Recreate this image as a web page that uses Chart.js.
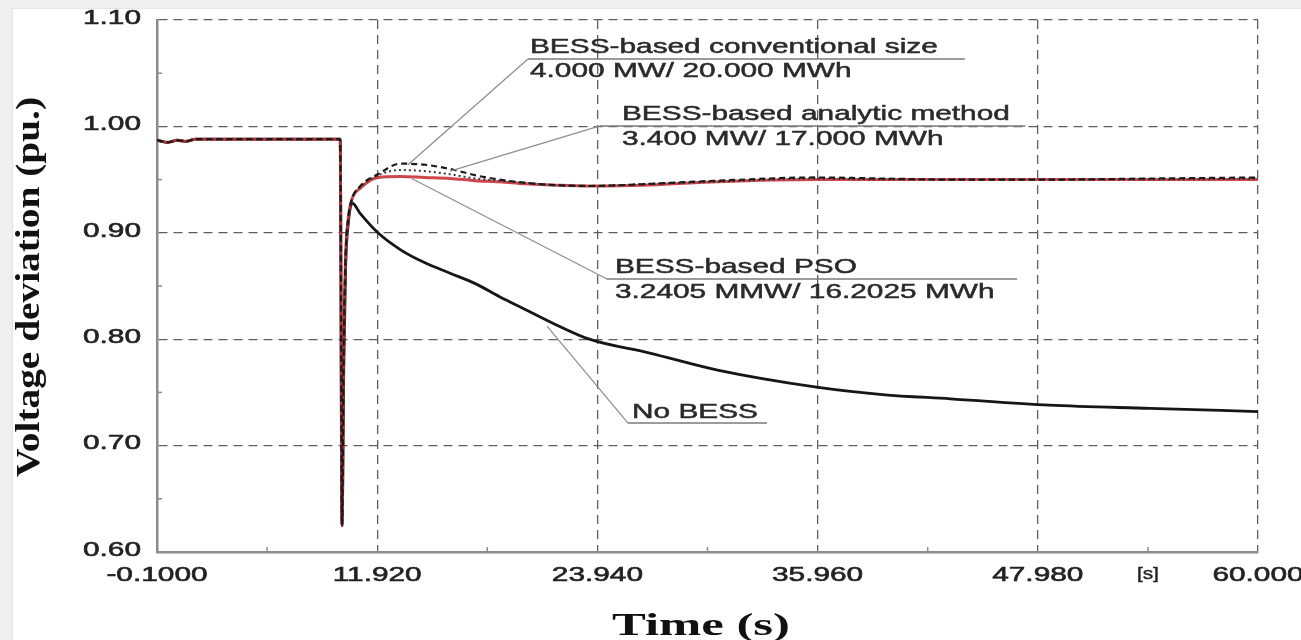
<!DOCTYPE html>
<html>
<head>
<meta charset="utf-8">
<script src="https://cdn.jsdelivr.net/npm/chart.js@4.4.1/dist/chart.umd.min.js"></script>
<style>
  html, body { margin: 0; padding: 0; background: #efefef; }
  #card { position: absolute; left: 12px; top: 8px; right: 0; bottom: 0; background: #ffffff; border-left: 1px solid #e2e2e2; border-top: 1px solid #e6e6e6; }
  #plot { position: absolute; left: 0; top: 0; }
</style>
</head>
<body>
<div id="card"></div>
<canvas id="plot" width="1301" height="640"></canvas>
<script>
// Simulation time samples (s)
const timeS = [-0.1, 0.5, 1.0, 1.5, 2.0, 3.0, 9.9, 10.0, 10.1, 10.2, 10.35, 10.55, 11.0, 11.96, 13.2, 14.5, 15.9, 17.3, 18.6, 20.0, 21.4, 23.5, 26.8, 30.5, 35.9, 39.5, 43.2, 48.6, 54.1, 60.0];

// Bus voltage (pu.) for each case
const noBess = [0.987, 0.985, 0.987, 0.986, 0.988, 0.988, 0.988, 0.625, 0.780, 0.870, 0.910, 0.928, 0.918, 0.900, 0.884, 0.872, 0.862, 0.852, 0.840, 0.828, 0.816, 0.800, 0.787, 0.771, 0.755, 0.748, 0.744, 0.738, 0.735, 0.732];
const bessConventional = [0.987, 0.985, 0.987, 0.986, 0.988, 0.988, 0.988, 0.625, 0.800, 0.880, 0.915, 0.932, 0.944, 0.955, 0.965, 0.964, 0.960, 0.954, 0.950, 0.947, 0.945, 0.944, 0.946, 0.949, 0.952, 0.951, 0.950, 0.950, 0.951, 0.952];
const bessAnalytic = [0.987, 0.985, 0.987, 0.986, 0.988, 0.988, 0.988, 0.625, 0.800, 0.880, 0.915, 0.932, 0.943, 0.954, 0.959, 0.958, 0.955, 0.951, 0.949, 0.947, 0.945, 0.944, 0.946, 0.948, 0.951, 0.950, 0.950, 0.950, 0.950, 0.951];
const bessPso = [0.987, 0.985, 0.987, 0.986, 0.988, 0.988, 0.988, 0.625, 0.800, 0.880, 0.915, 0.932, 0.942, 0.952, 0.953, 0.952, 0.951, 0.949, 0.948, 0.946, 0.945, 0.944, 0.945, 0.948, 0.950, 0.950, 0.950, 0.950, 0.950, 0.950];

// Axis ticks
const xTickValues = [-0.1, 11.92, 23.94, 35.96, 47.98, 60.0];
const xTickLabels = ['-0.1000', '11.920', '23.940', '35.960', '47.980', '60.000'];
const yTickValues = [0.60, 0.70, 0.80, 0.90, 1.00, 1.10];
const yTickLabels = ['0.60', '0.70', '0.80', '0.90', '1.00', '1.10'];

// Callout texts
const calloutConventional = ['BESS-based conventional size', '4.000 MW/ 20.000 MWh'];
const calloutAnalytic = ['BESS-based analytic method', '3.400 MW/ 17.000 MWh'];
const calloutPso = ['BESS-based PSO', '3.2405 MMW/ 16.2025 MWh'];
const calloutNoBess = ['No BESS'];

const toPoints = (vals) => timeS.map((t, i) => ({ x: t, y: vals[i] }));

const SANS = "'Liberation Sans', Arial, sans-serif";
const SERIF = "'Liberation Serif', 'Times New Roman', serif";
const H_STRETCH = 1.42;

function wideText(ctx, text, x, y, sx, align, baseline, heavy) {
  ctx.save();
  ctx.translate(x, y);
  ctx.scale(sx, 1);
  ctx.textAlign = align;
  ctx.textBaseline = baseline || 'alphabetic';
  if (heavy) {
    ctx.lineWidth = heavy;
    ctx.strokeStyle = ctx.fillStyle;
    ctx.strokeText(text, 0, 0);
  }
  ctx.fillText(text, 0, 0);
  ctx.restore();
}

function fitText(ctx, text, x, y, width, align, baseline) {
  const w = ctx.measureText(text).width;
  wideText(ctx, text, x, y, width / w, align, baseline);
}

// Leader-line callouts: tip on the curve, elbow where the underline starts
const callouts = [
  { lines: calloutConventional, tip: [13.6, 0.964], elbow: [20.15, 1.0633], endT: 44.0, dx: 2, base: [-6, 18] },
  { lines: calloutAnalytic, tip: [15.9, 0.958], elbow: [24.08, 1.0004], endT: 47.3, dx: 22, base: [-6, 19] },
  { lines: calloutPso, tip: [13.8, 0.951], elbow: [24.46, 0.8566], endT: 46.85, dx: 8, base: [-6, 19] },
  { lines: calloutNoBess, tip: [21.2, 0.812], elbow: [25.61, 0.7212], endT: 33.2, dx: 4, base: [-5] }
];

const decorPlugin = {
  id: 'decor',
  afterDatasetsDraw(chart) {
    const ctx = chart.ctx;
    const xs = chart.scales.x, ys = chart.scales.y;
    const area = chart.chartArea;

    // minor tick marks inside the frame
    ctx.save();
    ctx.strokeStyle = '#8c8c8c';
    ctx.lineWidth = 1.5;
    for (let i = 0; i < xTickValues.length - 1; i++) {
      const px = xs.getPixelForValue((xTickValues[i] + xTickValues[i + 1]) / 2);
      ctx.beginPath(); ctx.moveTo(px, area.bottom); ctx.lineTo(px, area.bottom - 5); ctx.stroke();
    }
    for (let i = 0; i < yTickValues.length - 1; i++) {
      const py = ys.getPixelForValue((yTickValues[i] + yTickValues[i + 1]) / 2);
      ctx.beginPath(); ctx.moveTo(area.left, py); ctx.lineTo(area.left + 5, py); ctx.stroke();
    }
    ctx.restore();

    // callouts
    ctx.save();
    callouts.forEach(c => {
      const tx = xs.getPixelForValue(c.tip[0]), ty = ys.getPixelForValue(c.tip[1]);
      const ex = xs.getPixelForValue(c.elbow[0]), ey = ys.getPixelForValue(c.elbow[1]);
      const rx = xs.getPixelForValue(c.endT);
      ctx.strokeStyle = '#8f8f8f';
      ctx.lineWidth = 1.3;
      ctx.beginPath(); ctx.moveTo(tx, ty); ctx.lineTo(ex, ey); ctx.stroke();
      ctx.strokeStyle = '#7a7a7a';
      ctx.lineWidth = 1.6;
      ctx.beginPath(); ctx.moveTo(ex, ey); ctx.lineTo(rx, ey); ctx.stroke();
      ctx.fillStyle = '#2a2a2a';
      ctx.font = '21px ' + SANS;
      c.lines.forEach((line, k) => wideText(ctx, line, ex + c.dx, ey + c.base[k], H_STRETCH, 'left', 'alphabetic', 0.5));
    });
    ctx.restore();
  },
  afterDraw(chart) {
    const ctx = chart.ctx;
    const xs = chart.scales.x, ys = chart.scales.y;
    const area = chart.chartArea;
    ctx.save();
    ctx.fillStyle = '#222222';
    ctx.font = '21px ' + SANS;
    xs.ticks.forEach((t, i) => {
      wideText(ctx, xTickLabels[i], xs.getPixelForValue(t.value), area.bottom + 23, H_STRETCH, 'center', 'middle', 0.6);
    });
    ys.ticks.forEach((t, i) => {
      wideText(ctx, yTickLabels[i], area.left - 16, ys.getPixelForValue(t.value) - 2, H_STRETCH, 'right', 'middle', 0.6);
    });
    // unit marker next to the last x tick
    ctx.font = '16px ' + SANS;
    wideText(ctx, '[s]', xs.getPixelForValue(53.99), area.bottom + 23, 1.3, 'center', 'middle', 0.4);

    // axis titles
    ctx.fillStyle = '#111111';
    ctx.font = 'bold 31px ' + SERIF;
    fitText(ctx, 'Time (s)', 701, 635, 178, 'center', 'alphabetic');
    ctx.save();
    ctx.translate(30, 287);
    ctx.rotate(-Math.PI / 2);
    ctx.font = 'bold 33px ' + SERIF;
    fitText(ctx, 'Voltage deviation (pu.)', 0, 0, 380, 'center', 'middle');
    ctx.restore();
    ctx.restore();
  }
};

const gridColor = (edgeIndex) => (c) => (c.index === edgeIndex ? 'rgba(0,0,0,0)' : '#5e5e5e');

new Chart(document.getElementById('plot'), {
  type: 'line',
  data: {
    datasets: [
      { label: 'BESS-based conventional size', data: toPoints(bessConventional), borderColor: '#1a1a1a', borderWidth: 2.2, borderDash: [6, 4] },
      { label: 'BESS-based analytic method', data: toPoints(bessAnalytic), borderColor: '#3a3a3a', borderWidth: 2, borderDash: [2, 3] },
      { label: 'BESS-based PSO', data: toPoints(bessPso), borderColor: 'rgba(200,50,55,0.9)', borderWidth: 3 },
      { label: 'No BESS', data: toPoints(noBess), borderColor: '#161616', borderWidth: 2.8 }
    ]
  },
  options: {
    responsive: false,
    animation: false,
    devicePixelRatio: 1,
    layout: { padding: { left: 0, top: 20, right: 43, bottom: 0 } },
    elements: { point: { radius: 0 }, line: { cubicInterpolationMode: 'monotone' } },
    plugins: { legend: { display: false }, tooltip: { enabled: false } },
    scales: {
      x: {
        type: 'linear', min: -0.1, max: 60,
        afterBuildTicks: (s) => { s.ticks = xTickValues.map(v => ({ value: v })); },
        afterFit: (s) => { s.height = 88; },
        ticks: { display: false },
        grid: { color: gridColor(0), lineWidth: 1.3, drawTicks: false },
        border: { display: true, color: '#8c8c8c', width: 2.5, dash: [9, 6] }
      },
      y: {
        type: 'linear', min: 0.6, max: 1.1,
        afterBuildTicks: (s) => { s.ticks = yTickValues.map(v => ({ value: v })); },
        afterFit: (s) => { s.width = 157; },
        ticks: { display: false },
        grid: { color: gridColor(0), lineWidth: 1.3, drawTicks: false },
        border: { display: true, color: '#8c8c8c', width: 2.5, dash: [9, 6] }
      }
    }
  },
  plugins: [decorPlugin]
});
</script>
</body>
</html>
